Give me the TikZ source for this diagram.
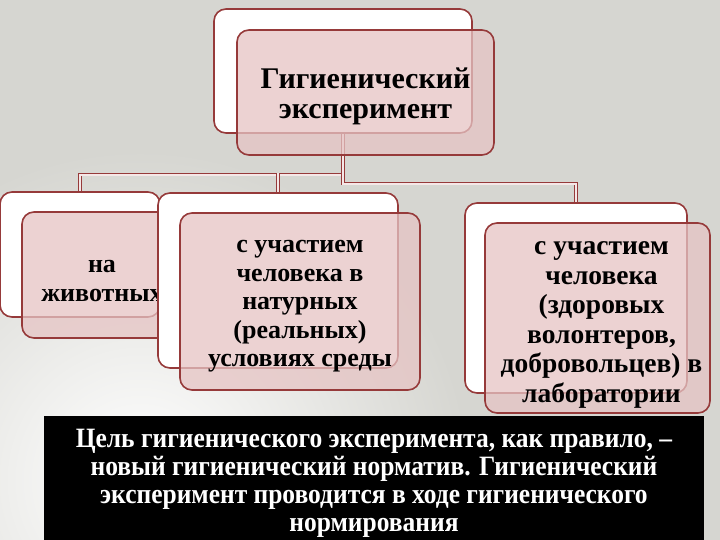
\documentclass[tikz,border=0pt]{standalone}
\usepackage{fontspec}
\setmainfont{Liberation Serif}
\newfontfamily\notefont[FakeStretch=0.91]{Liberation Serif}
\usetikzlibrary{backgrounds}
\definecolor{boxedge}{RGB}{150,58,58}
\definecolor{boxpink}{RGB}{230,196,196}
\definecolor{bggrey}{RGB}{214,214,209}
\pgfdeclarelayer{links}
\pgfsetlayers{background,links,main}
\tikzset{
  backbox/.style={draw=boxedge, line width=1.6pt, fill=white, rounded corners=12pt, inner sep=0pt},
  frontbox/.style={draw=boxedge, line width=1.6pt, fill=boxpink, fill opacity=0.75,
    rounded corners=12pt, inner sep=0pt},
  boxtext/.style={align=center, inner sep=0pt, font=\fontsize{26}{28.5}\selectfont\bfseries},
  link/.style={draw=boxedge, line width=0.8pt, double=boxpink!40, double distance=1.8pt},
  notebox/.style={fill=black, text=white, inner sep=0pt, align=center,
    font=\notefont\bfseries\fontsize{28}{28}\selectfont}
}
\begin{document}
\begin{tikzpicture}[x=1pt, y=-1pt]
  \useasboundingbox (0,0) rectangle (720,540);
  \begin{pgfonlayer}{background}
    \fill[bggrey] (0,0) rectangle (720,540);
    \clip (0,0) rectangle (720,540);
    \shade[inner color=white, outer color=bggrey] (140,480) circle (330);
  \end{pgfonlayer}
  % left
  \node[backbox, minimum width=160pt, minimum height=125pt] (leftback) at (80,254.5) {};
  \node[frontbox, minimum width=160pt, minimum height=126pt] (left) at (102,275) {};
  \node[boxtext] (lefttext) at ([shift={(0,6)}]left.center) {на\\животных};
  % middle
  \node[backbox, minimum width=240pt, minimum height=175pt] (midback) at (278,280.5) {};
  \node[frontbox, minimum width=240pt, minimum height=177pt] (mid) at (300,301.5) {};
  \node[boxtext] (midtext) at ([shift={(0,5)}]mid.center)
    {с участием\\человека в\\натурных\\(реальных)\\условиях среды};
  % right
  \node[backbox, minimum width=222pt, minimum height=190pt] (rightback) at (576,298) {};
  \node[frontbox, minimum width=225pt, minimum height=190pt] (right) at (597.5,318) {};
  \node[boxtext, font=\fontsize{27.5}{29.6}\selectfont\bfseries] (righttext) at ([shift={(4,7)}]right.center)
    {с участием\\человека\\(здоровых\\волонтеров,\\добровольцев) в\\лаборатории};
  % top
  \node[backbox, minimum width=258pt, minimum height=124pt] (topback) at (343,71) {};
  \node[frontbox, minimum width=257pt, minimum height=125pt] (top) at (365.5,92.5) {};
  \node[boxtext, font=\fontsize{30}{30}\selectfont\bfseries] (toptext) at ([shift={(0,4)}]top.center)
    {Гигиенический\\эксперимент};
  \begin{pgfonlayer}{links}
    \draw[link] (topback.south) -- ++(0,41) -| (leftback.north);
    \draw[link] (midback.north) -- ++(0,-19);
    \draw[link] (topback.south) -- ++(0,50) -| (rightback.north);
  \end{pgfonlayer}
  % note
  \node[notebox, minimum width=660pt, minimum height=134pt] (note) at (374,483)
    {Цель гигиенического эксперимента, как правило, –\\новый гигиенический норматив. Гигиенический\\эксперимент проводится в ходе гигиенического\\нормирования};
\end{tikzpicture}
\end{document}
